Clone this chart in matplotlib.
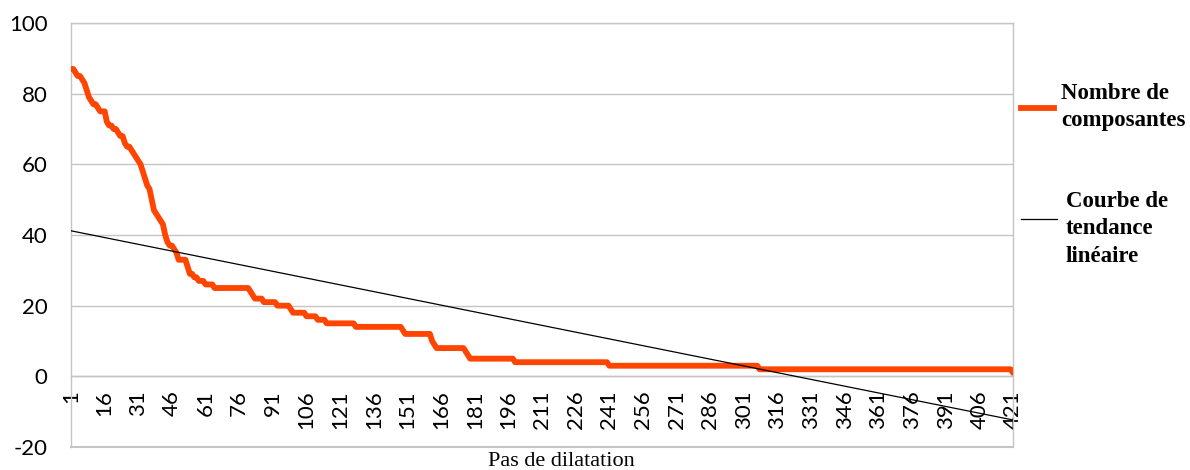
import matplotlib.pyplot as plt
import numpy as np
from matplotlib.lines import Line2D

# values (number of components per dilation step)
head_values = [87, 87, 86, 85, 85, 84, 83, 81, 79, 78, 77, 77, 76, 75, 75, 75,
               72, 71, 71, 70, 70, 69, 68, 68, 66, 65, 65, 64, 63, 62, 61, 60,
               58, 56, 54, 53, 50, 47, 46, 45, 44, 43, 40, 38, 37, 37, 36, 35,
               33, 33, 33, 33, 31, 29, 29, 28, 28, 27, 27, 27, 26, 26, 26, 26]
tail_values = [25, 24, 23, 22, 21, 20, 19, 18, 17, 16, 15, 14, 13, 12, 10, 9,
               8, 7, 6, 5, 4, 3, 2, 1]
tail_counts = [16, 1, 1, 4, 6, 6, 1, 6, 5, 4, 13, 21, 1, 12, 1, 1,
               13, 1, 1, 20, 42, 67, 113, 1]

y_ticks = [-20, 0, 20, 40, 60, 80, 100]
tick_every = 15

series_label = "Nombre de\ncomposantes"
trend_label = "Courbe de\ntendance\nlinéaire"
x_label = "Pas de dilatation"


def main():
    plt.rcParams['axes.unicode_minus'] = False

    values = np.array(head_values + list(np.repeat(tail_values, tail_counts)))
    steps = np.arange(1, len(values) + 1)

    # linear trend like the spreadsheet trendline
    slope, intercept = np.polyfit(steps, values, 1)
    trend = slope * steps + intercept

    grid_col = "#c4c4c4"
    orange = "#ff4500"

    fig = plt.figure(figsize=(11.9, 4.7), dpi=100)
    ax = fig.add_axes([71 / 1190, 1 - 447 / 470, (1013 - 71) / 1190, (447 - 23) / 470])

    # spine position first, it resets the ticks
    for side in ["left", "right", "top", "bottom"]:
        ax.spines[side].set_color(grid_col)
        ax.spines[side].set_linewidth(1)
    ax.spines["bottom"].set_position(("data", 0))
    ax.axhline(-20, color=grid_col, lw=1.5, clip_on=False, zorder=1)

    ax.plot(steps, values, color=orange, lw=4.2, solid_joinstyle="round",
            solid_capstyle="round", zorder=3)
    ax.plot(steps, trend, color="black", lw=0.9, zorder=4)

    ax.set_xlim(1, len(values))
    ax.set_ylim(-20, 100)
    ax.set_yticks(y_ticks)
    ax.set_xticks(steps[::tick_every])

    ax.grid(axis="y", color=grid_col, lw=1)
    ax.set_axisbelow(True)

    ax.tick_params(axis="both", length=0, labelsize=16, labelcolor="black")
    ax.tick_params(axis="x", pad=10, labelrotation=90)
    ax.tick_params(axis="y", pad=17)
    for lab in ax.get_xticklabels() + ax.get_yticklabels():
        lab.set_family("Lato")

    fig.text(561 / 1190, 1 - 461 / 470, x_label, ha="center", va="center",
             family="Liberation Serif", fontsize=16)

    # legend drawn by hand to the right of the plot area
    fig.add_artist(Line2D([1021 / 1190, 1054 / 1190], [1 - 108 / 470, 1 - 108 / 470],
                          color=orange, lw=4.2))
    fig.add_artist(Line2D([1021 / 1190, 1057 / 1190], [1 - 219 / 470, 1 - 219 / 470],
                          color="black", lw=0.9))
    fig.text(1061 / 1190, 1 - 107 / 470, series_label, ha="left", va="center",
             family="Liberation Serif", weight="bold", fontsize=16.5, linespacing=1.4)
    fig.text(1066 / 1190, 1 - 229 / 470, trend_label, ha="left", va="center",
             family="Liberation Serif", weight="bold", fontsize=16.5, linespacing=1.4)

    fig.savefig("out.png", dpi=100)


if __name__ == '__main__':
    main()
